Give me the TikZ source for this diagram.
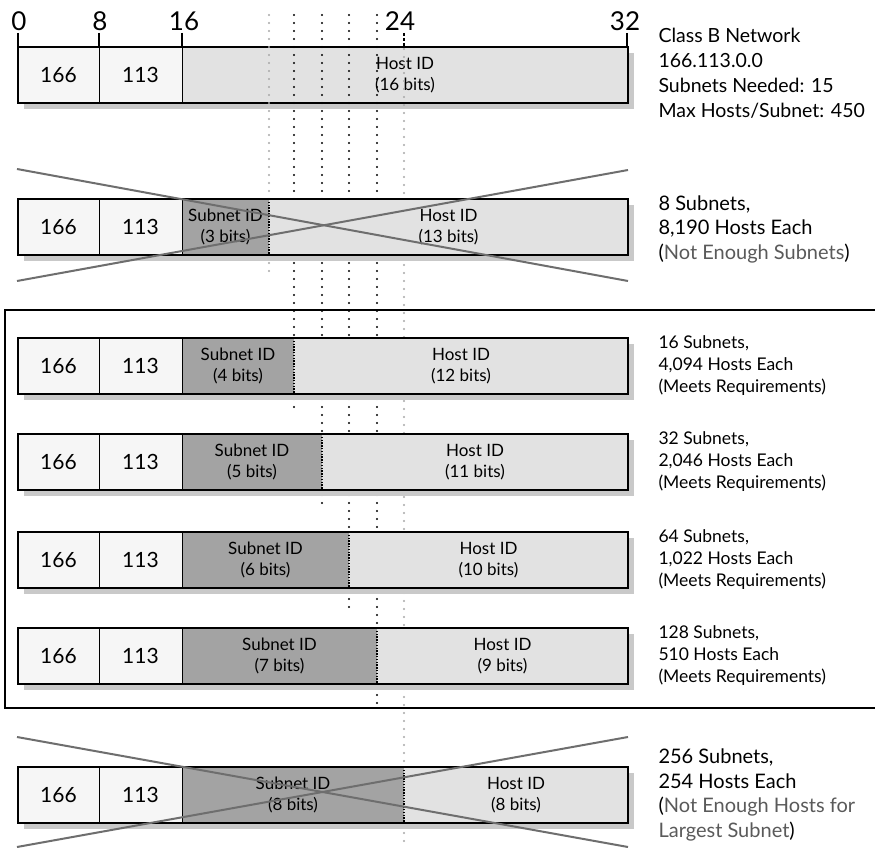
\documentclass[tikz,border=0pt]{standalone}
\usepackage{fontspec}
\setmainfont{Lato}
\definecolor{cellc}{HTML}{F6F6F6}
\definecolor{hostc}{HTML}{E2E2E2}
\definecolor{subc}{HTML}{A3A3A3}
\definecolor{shadc}{HTML}{C9C9C9}
\definecolor{crossc}{HTML}{6E6E6E}
\definecolor{notec}{HTML}{5A5A5A}
\definecolor{lightdot}{HTML}{A8A8A8}
\tikzset{
  outerline/.style={draw=black,line width=2.4pt},
  divline/.style={draw=black,line width=0.9pt},
  bndline/.style={draw=black,line width=1.3pt,dash pattern=on 1.4pt off 1.4pt},
  darkdot/.style={draw=black,line width=2.4pt,line cap=round,dash pattern=on 0pt off 8pt},
  lightdotl/.style={draw=lightdot,line width=2.4pt,line cap=round,dash pattern=on 0pt off 8pt},
  crossl/.style={draw=crossc,line width=2pt},
  ticks/.style={draw=black,line width=2pt},
  ruler/.style={font=\fontsize{26}{28}\selectfont},
  celltxt/.style={font=\fontsize{21}{24}\selectfont},
  idtxt/.style={font=\fontsize{17}{21}\selectfont,align=center},
  bignote/.style={anchor=west,align=left,font=\fontsize{19.5}{25}\selectfont},
  midnote/.style={anchor=west,align=left,font=\fontsize{20}{24.5}\selectfont},
  smallnote/.style={anchor=west,align=left,font=\fontsize{17.5}{22}\selectfont},
  framel/.style={draw=black,line width=2.4pt}
}
% #1 top y, #2 name prefix, #3 subnet end x, #4 unused, #5 host label
\newcommand\mybar[5]{%
  \fill[shadc] (24,#1+6) rectangle (634,#1+62);
  \fill[cellc] (18,#1) rectangle (182,#1+56);
  \fill[subc] (182,#1) rectangle (#3,#1+56);
  \fill[hostc] (#3,#1) rectangle (628,#1+56);
  \draw[divline] (99,#1) -- (99,#1+56);
  \draw[divline] (182,#1) -- (182,#1+56);
  \draw[outerline] (18,#1) rectangle (628,#1+56);
  \node[celltxt] (#2a) at (58.5,#1+28) {166};
  \node[celltxt] (#2b) at (140.5,#1+28) {113};
  \node[idtxt] (#2h) at ({(#3+628)/2},#1+28) {#5};
}
\newcommand\mysub[4]{%
  \node[idtxt] (#2s) at ({(182+#3)/2},#1+28) {#4};
  \draw[bndline] (#3,#1) -- (#3,#1+56);
}
\begin{document}
\begin{tikzpicture}[x=1pt,y=-1pt]
\useasboundingbox (0,0) rectangle (875,850);
\fill[white] (0,0) rectangle (875,850);
% ruler
\node[ruler] (r0) at (19,21) {0};
\node[ruler] (r8) at (100,21) {8};
\node[ruler] (r16) at (184,21) {16};
\node[ruler] (r24) at (400,21) {24};
\node[ruler] (r32) at (625,21) {32};
\draw[ticks] (18,33) -- (18,47);
\draw[ticks] (99,33) -- (99,47);
\draw[ticks] (182,33) -- (182,47);
\draw[ticks] (627,33) -- (627,47);
\draw[black,line width=1.5pt,dash pattern=on 3pt off 2pt] (404,33) -- (404,47);
% bar 1
\mybar{47}{b1}{182}{}{Host ID\\(16 bits)}
% dotted guides
\draw[lightdotl] (269,15) -- (269,276);
\draw[darkdot] (294,15) -- (294,414);
\draw[darkdot] (322,15) -- (322,510);
\draw[darkdot] (349,15) -- (349,608);
\draw[darkdot] (377,15) -- (377,704);
\draw[lightdotl] (404,49) -- (404,845);
% frame
\draw[framel] (876,310) -- (5,310) -- (5,708) -- (876,708);
% bars
\mybar{199}{b2}{269}{}{Host ID\\(13 bits)}
\mysub{199}{b2}{269}{Subnet ID\\(3 bits)}
\mybar{338}{b3}{294}{}{Host ID\\(12 bits)}
\mysub{338}{b3}{294}{Subnet ID\\(4 bits)}
\mybar{434}{b4}{322}{}{Host ID\\(11 bits)}
\mysub{434}{b4}{322}{Subnet ID\\(5 bits)}
\mybar{532}{b5}{349}{}{Host ID\\(10 bits)}
\mysub{532}{b5}{349}{Subnet ID\\(6 bits)}
\mybar{628}{b6}{377}{}{Host ID\\(9 bits)}
\mysub{628}{b6}{377}{Subnet ID\\(7 bits)}
\mybar{767}{b7}{404}{}{Host ID\\(8 bits)}
\mysub{767}{b7}{404}{Subnet ID\\(8 bits)}
% crosses
\coordinate (c2a) at (17,169); \coordinate (c2b) at (628,281);
\coordinate (c2c) at (17,281); \coordinate (c2d) at (628,170);
\draw[crossl] (c2a) -- (c2b);
\draw[crossl] (c2c) -- (c2d);
\coordinate (c7a) at (17,737); \coordinate (c7b) at (628,847);
\coordinate (c7c) at (17,847); \coordinate (c7d) at (628,737);
\draw[crossl] (c7a) -- (c7b);
\draw[crossl] (c7c) -- (c7d);
% notes
\node[bignote] (n1) at (655,73) {Class B Network\\166.113.0.0\\Subnets Needed: 15\\Max Hosts/Subnet: 450};
\node[midnote] (n2) at (655,229) {8 Subnets,\\8,190 Hosts Each\\(\textcolor{notec}{Not Enough Subnets})};
\node[smallnote] (n3) at (655,366) {16 Subnets,\\4,094 Hosts Each\\(Meets Requirements)};
\node[smallnote] (n4) at (655,462) {32 Subnets,\\2,046 Hosts Each\\(Meets Requirements)};
\node[smallnote] (n5) at (655,560) {64 Subnets,\\1,022 Hosts Each\\(Meets Requirements)};
\node[smallnote] (n6) at (655,656) {128 Subnets,\\510 Hosts Each\\(Meets Requirements)};
\node[midnote] (n7) at (655,795) {256 Subnets,\\254 Hosts Each\\(\textcolor{notec}{Not Enough Hosts for}\\\textcolor{notec}{Largest Subnet})};
\end{tikzpicture}
\end{document}
